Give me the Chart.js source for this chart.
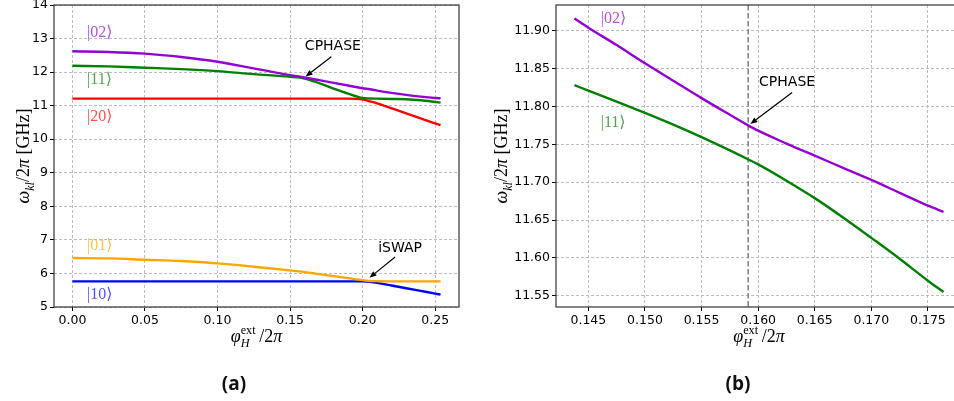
<!DOCTYPE html>
<html>
<head>
<meta charset="utf-8">
<script src="https://cdn.jsdelivr.net/npm/chart.js@4.4.1/dist/chart.umd.min.js"></script>
<style>
  html, body { margin: 0; padding: 0; background: #fff; overflow: hidden; }
  body { width: 954px; height: 401px; position: relative; }
  #chartA { position: absolute; left: 0; top: 0; }
  #chartB { position: absolute; left: 480px; top: 0; }
  .tag { position: absolute; top: 371px; width: 80px; text-align: center;
         font-family: "Open Sans", sans-serif; font-weight: bold; font-size: 19px; line-height: 24px; color: #111; }
</style>
</head>
<body>
<canvas id="chartA" width="480" height="401"></canvas>
<canvas id="chartB" width="500" height="401"></canvas>
<div class="tag" style="left:194px">(a)</div>
<div class="tag" style="left:698px">(b)</div>
<script>
// panel (a): full flux sweep
let phiA = [0, 0.025, 0.05, 0.075, 0.10, 0.125, 0.15, 0.16, 0.17, 0.18, 0.19, 0.20, 0.205, 0.21, 0.22, 0.23, 0.24, 0.25, 0.2537];
let e02A = [12.62, 12.60, 12.55, 12.45, 12.31, 12.11, 11.91, 11.84, 11.76, 11.68, 11.60, 11.52, 11.49, 11.45, 11.38, 11.32, 11.27, 11.23, 11.22];
let e11A = [12.19, 12.17, 12.13, 12.09, 12.03, 11.94, 11.86, 11.81, 11.67, 11.51, 11.36, 11.23, 11.215, 11.21, 11.20, 11.19, 11.16, 11.11, 11.09];
let e20A = [11.21, 11.21, 11.21, 11.21, 11.21, 11.21, 11.21, 11.21, 11.21, 11.21, 11.21, 11.19, 11.13, 11.07, 10.92, 10.77, 10.62, 10.47, 10.42];
let e01A = [6.46, 6.45, 6.41, 6.37, 6.30, 6.20, 6.09, 6.04, 5.98, 5.92, 5.86, 5.80, 5.775, 5.77, 5.765, 5.765, 5.765, 5.765, 5.765];
let e10A = [5.765, 5.765, 5.765, 5.765, 5.765, 5.765, 5.765, 5.765, 5.765, 5.765, 5.765, 5.765, 5.75, 5.72, 5.64, 5.56, 5.48, 5.40, 5.37];
let xTicksA = [0, 0.05, 0.10, 0.15, 0.20, 0.25];
let yTicksA = [5, 6, 7, 8, 9, 10, 11, 12, 13, 14];

// panel (b): zoom around the CPHASE point
let phiB = [0.14377, 0.145, 0.1475, 0.150, 0.1525, 0.155, 0.1575, 0.159, 0.160, 0.1625, 0.165, 0.1675, 0.170, 0.1725, 0.175, 0.17638];
let e02B = [11.916, 11.904, 11.881, 11.857, 11.834, 11.811, 11.789, 11.776, 11.768, 11.751, 11.735, 11.719, 11.703, 11.686, 11.669, 11.661];
let e11B = [11.828, 11.821, 11.8065, 11.7915, 11.776, 11.7595, 11.742, 11.731, 11.7235, 11.702, 11.679, 11.6535, 11.6265, 11.599, 11.570, 11.555];
let xTicksB = [0.145, 0.150, 0.155, 0.160, 0.165, 0.170, 0.175];
let yTicksB = [11.55, 11.60, 11.65, 11.70, 11.75, 11.80, 11.85, 11.90];
let cphaseB = 0.15912;

let kets = ["|02\u27E9", "|11\u27E9", "|20\u27E9", "|01\u27E9", "|10\u27E9"];

const C02 = "#9400D3", C11 = "#008000", C20 = "#FF0000", C01 = "#FFA500", C10 = "#0000FF";
const MATH = '"Liberation Serif", "DejaVu Serif", serif';

function mathFont(p, size){
  return (p.it ? "italic " : "") + (p.small ? size * 0.68 : size) + "px " + MATH;
}

// draw a run of math pieces centred on (x, y); a "stack" piece shares its slot with the next one
function drawMath(ctx, parts, x, y, size){
  let widths = parts.map(function(p){
    ctx.font = mathFont(p, size);
    return ctx.measureText(p.t).width;
  });
  let adv = widths.map(function(wd, i){
    if(parts[i].stack) return 0;
    if(i > 0 && parts[i - 1].stack) return Math.max(wd, widths[i - 1]);
    return wd;
  });
  let w = adv.reduce(function(s, v){ return s + v; }, 0);
  let cx = x - w / 2;
  ctx.textBaseline = "alphabetic";
  ctx.textAlign = "left";
  parts.forEach(function(p, i){
    ctx.font = mathFont(p, size);
    let dy = p.sub ? size * 0.28 : (p.sup ? -size * 0.42 : 0);
    ctx.fillText(p.t, cx, y + dy);
    cx += adv[i];
  });
}

let yTitle = [
  {t: "\u03C9", it: true}, {t: "kl", it: true, small: true, sub: true},
  {t: "/2"}, {t: "\u03C0", it: true}, {t: " [GHz]"}
];
let xTitle = [
  {t: "\u03C6", it: true}, {t: "ext", small: true, sup: true, stack: true},
  {t: "H", it: true, small: true, sub: true}, {t: "\u2009/2"}, {t: "\u03C0", it: true}
];

function arrow(ctx, x1, y1, x2, y2){
  let a = Math.atan2(y2 - y1, x2 - x1);
  let hl = 7, hw = 2.8;
  ctx.strokeStyle = "#000";
  ctx.fillStyle = "#000";
  ctx.lineWidth = 1.2;
  ctx.beginPath();
  ctx.moveTo(x1, y1);
  ctx.lineTo(x2 - hl * Math.cos(a), y2 - hl * Math.sin(a));
  ctx.stroke();
  ctx.beginPath();
  ctx.moveTo(x2, y2);
  ctx.lineTo(x2 - hl * Math.cos(a) + hw * Math.sin(a), y2 - hl * Math.sin(a) - hw * Math.cos(a));
  ctx.lineTo(x2 - hl * Math.cos(a) - hw * Math.sin(a), y2 - hl * Math.sin(a) + hw * Math.cos(a));
  ctx.closePath();
  ctx.fill();
}

function overlay(opts){
  return {
    id: "overlay",
    beforeDatasetsDraw: function(chart){
      if(opts.markX === undefined) return;
      let ctx = chart.ctx, a = chart.chartArea;
      let px = chart.scales.x.getPixelForValue(opts.markX);
      ctx.save();
      ctx.strokeStyle = "#808080";
      ctx.lineWidth = 1.5;
      ctx.setLineDash([5.5, 2.5]);
      ctx.beginPath();
      ctx.moveTo(px, a.top);
      ctx.lineTo(px, a.bottom);
      ctx.stroke();
      ctx.restore();
    },
    afterDraw: function(chart){
      let ctx = chart.ctx, a = chart.chartArea;
      let sx = chart.scales.x, sy = chart.scales.y;
      ctx.save();

      // frame
      ctx.strokeStyle = "#333";
      ctx.lineWidth = 1.2;
      ctx.strokeRect(a.left, a.top, a.right - a.left, a.bottom - a.top);

      // state labels
      ctx.font = "16px " + MATH;
      ctx.textBaseline = "middle";
      ctx.textAlign = "left";
      opts.labels.forEach(function(l){
        ctx.fillStyle = l.color;
        ctx.fillText(l.text, sx.getPixelForValue(l.x), sy.getPixelForValue(l.y));
      });

      // gate annotations
      opts.gates.forEach(function(g){
        ctx.fillStyle = "#000";
        ctx.font = "14px 'DejaVu Sans', sans-serif";
        ctx.textAlign = "center";
        ctx.textBaseline = "middle";
        ctx.fillText(g.text, sx.getPixelForValue(g.tx), sy.getPixelForValue(g.ty));
        arrow(ctx, sx.getPixelForValue(g.ax), sy.getPixelForValue(g.ay),
              sx.getPixelForValue(g.hx), sy.getPixelForValue(g.hy));
      });

      // axis titles
      ctx.fillStyle = "#000";
      drawMath(ctx, xTitle, (a.left + a.right) / 2, 342, 18);
      ctx.translate(opts.yTitleX, (a.top + a.bottom) / 2);
      ctx.rotate(-Math.PI / 2);
      drawMath(ctx, yTitle, 0, 6, 18);
      ctx.restore();
    }
  };
}

function axis(min, max, ticks, fmt, horizontal, size){
  return {
    type: "linear",
    min: min,
    max: max,
    afterBuildTicks: function(s){
      s.ticks = ticks.map(function(v){ return {value: v}; });
    },
    afterFit: function(s){
      if(horizontal){ s.height = size; } else { s.width = size; }
      s.paddingLeft = 0; s.paddingRight = 0; s.paddingTop = 0; s.paddingBottom = 0;
    },
    ticks: {
      autoSkip: false,
      maxRotation: 0,
      padding: 2,
      color: "#000",
      font: {family: "'DejaVu Sans', sans-serif", size: 12.5},
      callback: function(v){ return fmt(v); }
    },
    grid: {color: "#b4b4b4", lineWidth: 0.9, tickLength: 4, tickColor: "#000", tickWidth: 1},
    border: {display: false, dash: [3, 2]}
  };
}

function series(x, values, color){
  return {
    data: x.map(function(v, i){ return {x: v, y: values[i]}; }),
    borderColor: color,
    borderWidth: 2.4,
    pointRadius: 0,
    fill: false,
    cubicInterpolationMode: "monotone"
  };
}

function fade(hex){
  let n = parseInt(hex.slice(1), 16);
  return "rgba(" + (n >> 16) + "," + ((n >> 8) & 255) + "," + (n & 255) + ",0.7)";
}

new Chart(document.getElementById("chartA"), {
  type: "line",
  data: {
    datasets: [
      series(phiA, e02A, C02),
      series(phiA, e11A, C11),
      series(phiA, e20A, C20),
      series(phiA, e01A, C01),
      series(phiA, e10A, C10)
    ]
  },
  options: {
    responsive: false,
    animation: false,
    devicePixelRatio: 1,
    layout: {padding: {left: 0, top: 5, right: 21, bottom: 0}},
    plugins: {legend: {display: false}, tooltip: {enabled: false}},
    scales: {
      x: axis(-0.0127, 0.2664, xTicksA, function(v){ return v.toFixed(2); }, true, 94),
      y: axis(5, 14, yTicksA, function(v){ return String(v); }, false, 54)
    }
  },
  plugins: [overlay({
    yTitleX: 23,
    labels: [
      {text: kets[0], x: 0.0101, y: 13.17, color: fade(C02)},
      {text: kets[1], x: 0.0101, y: 11.77, color: fade(C11)},
      {text: kets[2], x: 0.0101, y: 10.67, color: fade(C20)},
      {text: kets[3], x: 0.0101, y: 6.81, color: fade(C01)},
      {text: kets[4], x: 0.0101, y: 5.37, color: fade(C10)}
    ],
    gates: [
      {text: "CPHASE", tx: 0.1795, ty: 12.76, ax: 0.1784, ay: 12.46, hx: 0.1607, hy: 11.87},
      {text: "iSWAP", tx: 0.2258, ty: 6.76, ax: 0.2224, ay: 6.49, hx: 0.2047, hy: 5.87}
    ]
  })]
});

new Chart(document.getElementById("chartB"), {
  type: "line",
  data: {
    datasets: [
      series(phiB, e02B, C02),
      series(phiB, e11B, C11)
    ]
  },
  options: {
    responsive: false,
    animation: false,
    devicePixelRatio: 1,
    layout: {padding: {left: 0, top: 5, right: 18, bottom: 0}},
    plugins: {legend: {display: false}, tooltip: {enabled: false}},
    scales: {
      x: axis(0.14214, 0.17801, xTicksB, function(v){ return v.toFixed(3); }, true, 94),
      y: axis(11.5353, 11.9339, yTicksB, function(v){ return v.toFixed(2); }, false, 76)
    }
  },
  plugins: [overlay({
    yTitleX: 21,
    markX: cphaseB,
    labels: [
      {text: kets[0], x: 0.14609, y: 11.916, color: fade(C02)},
      {text: kets[1], x: 0.14609, y: 11.778, color: fade(C11)}
    ],
    gates: [
      {text: "CPHASE", tx: 0.16256, ty: 11.8315, ax: 0.16300, ay: 11.8183, hx: 0.15931, hy: 11.777}
    ]
  })]
});
</script>
</body>
</html>
